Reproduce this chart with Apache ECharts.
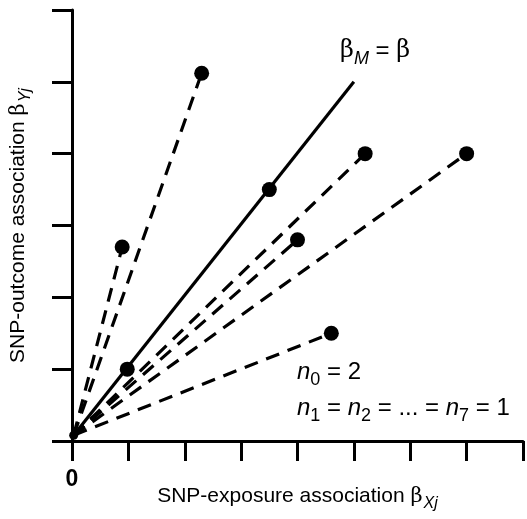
<!DOCTYPE html>
<html>
<head>
<meta charset="utf-8">
<script src="https://cdn.jsdelivr.net/npm/echarts@6/dist/echarts.min.js"></script>
<style>
  html, body { margin: 0; padding: 0; background: #fff; }
  #main { width: 527px; height: 519px; }
</style>
</head>
<body>
<div id="main"></div>
<script>
// SNP estimates
var snpX = [0.98, 3.5, 0.89, 2.3, 5.2, 7.0, 4.0, 4.6];
var snpY = [1.0, 3.5, 2.7, 5.12, 4.0, 4.0, 2.8, 1.5];
// which SNPs get a dashed ratio line back to the origin
var dashed = [false, false, true, true, true, true, true, true];
var origin = [0.03, 0.08];
var trueLineEnd = [5, 5];
var xTicks = [0, 1, 2, 3, 4, 5, 6, 7, 8];
var yTicks = [0, 1, 2, 3, 4, 5, 6];

var chart = echarts.init(document.getElementById('main'));

var font = 'Liberation Sans';
var series = [];

// dashed lines from origin to each invalid SNP
for (var i = 0; i < snpX.length; i++) {
  if (!dashed[i]) continue;
  series.push({
    type: 'line',
    data: [origin, [snpX[i], snpY[i]]],
    symbol: 'none',
    silent: true,
    lineStyle: { color: '#000', width: 3.2, type: [14, 9] },
    z: 2
  });
}

// solid line beta_M = beta
series.push({
  type: 'line',
  data: [origin, trueLineEnd],
  symbol: 'none',
  silent: true,
  lineStyle: { color: '#000', width: 3.2, type: 'solid' },
  z: 3
});

var pts = [];
for (var j = 0; j < snpX.length; j++) pts.push([snpX[j], snpY[j]]);
series.push({
  type: 'scatter',
  data: pts,
  symbolSize: 15,
  itemStyle: { color: '#000', opacity: 1 },
  z: 4
});
series.push({
  type: 'scatter',
  data: [origin],
  symbolSize: 9,
  itemStyle: { color: '#000', opacity: 1 },
  z: 4
});

var nameRich = {
  t: { fontFamily: font, fontSize: 21, color: '#000', verticalAlign: 'bottom', padding: [0, 0, 5, 0] },
  b: { fontFamily: 'DejaVu Serif', fontSize: 21, color: '#000', verticalAlign: 'bottom', padding: [0, 1, 5, 0] },
  s: { fontFamily: font, fontStyle: 'italic', fontSize: 16, color: '#000', verticalAlign: 'bottom' }
};

var bigRich = {
  n: { fontFamily: font, fontStyle: 'italic', fontSize: 24, fill: '#000', verticalAlign: 'bottom', padding: [0, 0, 5, 0] },
  b: { fontFamily: 'DejaVu Serif', fontSize: 24, fill: '#000', verticalAlign: 'bottom', padding: [0, 0, 5, 0] },
  t: { fontFamily: font, fontSize: 24, fill: '#000', verticalAlign: 'bottom', padding: [0, 0, 5, 0] },
  s: { fontFamily: font, fontSize: 18, fill: '#000', verticalAlign: 'bottom' },
  si: { fontFamily: font, fontStyle: 'italic', fontSize: 18, fill: '#000', verticalAlign: 'bottom' }
};

var option = {
  animation: false,
  backgroundColor: '#fff',
  grid: { left: 72, right: 4, top: 10, bottom: 78, containLabel: false, outerBoundsMode: 'none' },
  xAxis: {
    type: 'value',
    min: xTicks[0],
    max: xTicks[xTicks.length - 1],
    interval: 1,
    splitLine: { show: false },
    axisLine: { show: true, onZero: false, lineStyle: { color: '#000', width: 3 } },
    axisTick: { show: true, length: 20, lineStyle: { color: '#000', width: 3 } },
    axisLabel: {
      margin: 27,
      fontFamily: font,
      fontWeight: 'bold',
      fontSize: 23,
      color: '#000',
      formatter: function (v) { return v === 0 ? '0' : ''; }
    },
    name: '{t|SNP-exposure association }{b|β}{s|Xj}',
    nameLocation: 'middle',
    nameGap: 45,
    nameMoveOverlap: false,
    nameTextStyle: { rich: nameRich }
  },
  yAxis: {
    type: 'value',
    min: yTicks[0],
    max: yTicks[yTicks.length - 1],
    interval: 1,
    splitLine: { show: false },
    axisLine: { show: true, onZero: false, lineStyle: { color: '#000', width: 3 } },
    axisTick: { show: true, length: 20, lineStyle: { color: '#000', width: 3 } },
    axisLabel: { show: false },
    name: '{t|SNP-outcome association }{b|β}{s|Yj}',
    nameLocation: 'middle',
    nameRotate: 90,
    nameGap: 38,
    nameMoveOverlap: false,
    nameTextStyle: { rich: nameRich }
  },
  graphic: [
    {
      type: 'text',
      left: 340,
      top: 39,
      style: { text: '{b|β}{si|M}{t| = }{b|β}', rich: bigRich }
    },
    {
      type: 'text',
      left: 297,
      top: 360,
      style: { text: '{n|n}{s|0}{t| = 2}', rich: bigRich }
    },
    {
      type: 'text',
      left: 297,
      top: 396,
      style: { text: '{n|n}{s|1}{t| = }{n|n}{s|2}{t| = ... = }{n|n}{s|7}{t| = 1}', rich: bigRich }
    }
  ],
  series: series
};

chart.setOption(option);
</script>
</body>
</html>
